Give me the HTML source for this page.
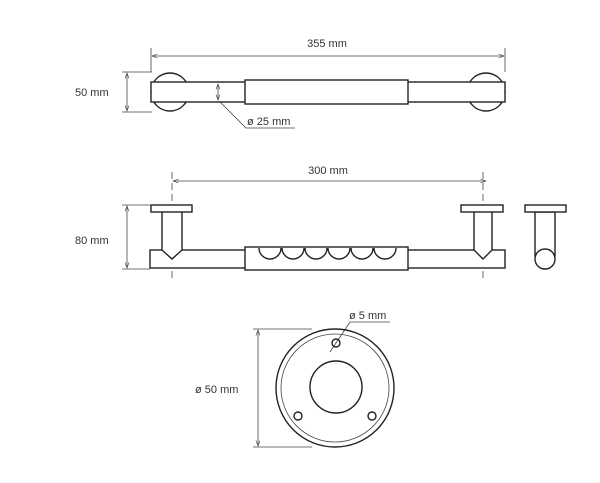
<!DOCTYPE html>
<html><head><style>
body{margin:0;background:#fff}
svg{display:block}
text{font-family:"Liberation Sans",sans-serif;font-size:11px;fill:#333}
</style></head><body>
<svg width="600" height="483" viewBox="0 0 600 483">
<defs><marker id="a" markerWidth="8" markerHeight="6" refX="7" refY="3" orient="auto-start-reverse"><path d="M0,0.5 L7,3 L0,5.5" fill="none" stroke="#444" stroke-width="0.8"/></marker></defs>
<g stroke="#444" stroke-width="0.8" fill="none">
<line x1="151" y1="48" x2="151" y2="72"/><line x1="505" y1="48" x2="505" y2="72"/>
<line x1="152" y1="56" x2="504" y2="56" marker-start="url(#a)" marker-end="url(#a)"/>
<line x1="122" y1="72" x2="152" y2="72"/><line x1="122" y1="112" x2="152" y2="112"/>
<line x1="127" y1="73" x2="127" y2="111" marker-start="url(#a)" marker-end="url(#a)"/>
<polyline points="220,102 246,128 295,128"/>
</g>
<g stroke="#222" stroke-width="1.4" fill="#fff">
<circle cx="170" cy="92" r="19"/><circle cx="486" cy="92" r="19"/>
<rect x="151" y="82" width="354" height="20"/>
<rect x="245" y="80" width="163" height="24"/>
</g>
<line x1="218" y1="84" x2="218" y2="100" stroke="#444" stroke-width="0.8" marker-start="url(#a)" marker-end="url(#a)"/>
<text x="327" y="47" text-anchor="middle">355 mm</text>
<text x="75" y="96">50 mm</text>
<text x="247" y="125">ø 25 mm</text>
<g stroke="#444" stroke-width="0.8" fill="none">
<line x1="173" y1="181" x2="486" y2="181" marker-start="url(#a)" marker-end="url(#a)"/>
<line x1="172" y1="172" x2="172" y2="282" stroke-dasharray="7,4"/>
<line x1="483" y1="172" x2="483" y2="282" stroke-dasharray="7,4"/>
<line x1="122" y1="205" x2="150" y2="205"/><line x1="122" y1="269" x2="150" y2="269"/>
<line x1="127" y1="206" x2="127" y2="268" marker-start="url(#a)" marker-end="url(#a)"/>
</g>
<g stroke="#222" stroke-width="1.4" fill="#fff">
<rect x="150" y="250" width="355" height="18"/>
<polyline points="162,212 162,250 172,259 182,250 182,212"/>
<polyline points="474,212 474,250 483,259 492,250 492,212"/>
<rect x="151" y="205" width="41" height="7"/>
<rect x="461" y="205" width="42" height="7"/>
<rect x="245" y="247" width="163" height="23"/>
<path d="M259,248 a11,11 0 0 0 22,0 M282,248 a11,11 0 0 0 22,0 M305,248 a11,11 0 0 0 22,0 M328,248 a11,11 0 0 0 22,0 M351,248 a11,11 0 0 0 22,0 M374,248 a11,11 0 0 0 22,0" fill="none"/>
<rect x="535" y="212" width="20" height="44"/>
<rect x="525" y="205" width="41" height="7"/>
<circle cx="545" cy="259" r="10"/>
</g>
<text x="328" y="174" text-anchor="middle">300 mm</text>
<text x="75" y="244">80 mm</text>
<g stroke="#444" stroke-width="0.8" fill="none">
<line x1="253" y1="329" x2="312" y2="329"/><line x1="253" y1="447" x2="312" y2="447"/>
<line x1="258" y1="330" x2="258" y2="446" marker-start="url(#a)" marker-end="url(#a)"/>
<polyline points="330,352 350,322 390,322"/>
<circle cx="335" cy="388" r="54"/>
</g>
<g stroke="#222" stroke-width="1.4" fill="none">
<circle cx="335" cy="388" r="59"/>
<circle cx="336" cy="387" r="26"/>
<circle cx="336" cy="343" r="4"/>
<circle cx="298" cy="416" r="4"/>
<circle cx="372" cy="416" r="4"/>
</g>
<text x="349" y="319">ø 5 mm</text>
<text x="195" y="393">ø 50 mm</text>
</svg>
</body></html>
